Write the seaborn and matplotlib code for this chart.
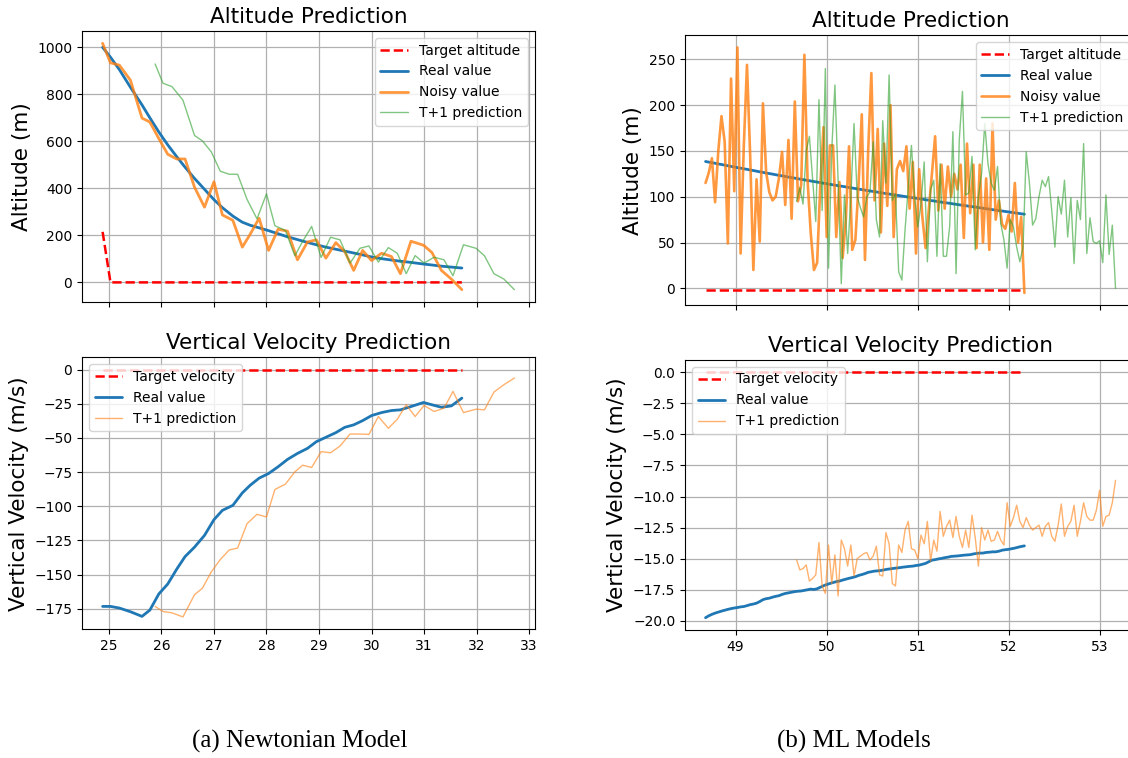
import matplotlib
matplotlib.use("Agg")
import matplotlib.pyplot as plt
import seaborn as sns

# ---------------- (a) Newtonian model ----------------
time_a = [24.88, 25.03, 25.20, 25.41, 25.63, 25.78, 25.95, 26.12, 26.29, 26.45,
          26.63, 26.82, 27.00, 27.16, 27.36, 27.54, 27.69, 27.86, 28.04, 28.22,
          28.40, 28.59, 28.78, 28.95, 29.13, 29.32, 29.49, 29.66, 29.83, 30.00,
          30.19, 30.38, 30.55, 30.75, 30.99, 31.15, 31.33, 31.52, 31.72]
pred_time_a = [25.88, 26.03, 26.20, 26.41, 26.63, 26.78, 26.95, 27.12, 27.29, 27.45,
               27.63, 27.82, 28.00, 28.16, 28.36, 28.54, 28.69, 28.86, 29.04, 29.22,
               29.40, 29.59, 29.78, 29.95, 30.13, 30.32, 30.49, 30.66, 30.83, 31.00,
               31.19, 31.38, 31.55, 31.75, 31.99, 32.15, 32.33, 32.52, 32.72]

target_alt_time_a = [24.88, 25.03, 31.72]
target_alt_a = [215, 0, 0]
real_alt_a = [1000, 958, 905, 830, 755, 700, 640, 585, 535, 490,
              442, 396, 352, 318, 282, 256, 243, 232, 220, 207,
              194, 182, 170, 160, 150, 141, 133, 125, 117, 108,
              101, 95, 90, 85, 78, 74, 69, 65, 61]
noisy_alt_a = [1017, 934, 924, 860, 699, 682, 612, 545, 525, 525,
               405, 320, 428, 287, 264, 150, 205, 273, 136, 226,
               218, 96, 172, 181, 103, 169, 131, 51, 136, 93,
               124, 110, 37, 175, 158, 127, 51, 14, -31]
pred_alt_a = [929, 847, 833, 775, 625, 602, 555, 473, 460, 460,
              353, 270, 377, 241, 221, 113, 175, 238, 106, 192,
              181, 82, 145, 155, 86, 148, 124, 37, 114, 82,
              107, 96, 28, 160, 145, 113, 37, 14, -31]

target_vel_time_a = [24.88, 31.72]
target_vel_a = [0, 0]
real_vel_a = [-173.3, -173.3, -174.5, -177.2, -180.6, -176.0, -164.2, -156.9, -146.1, -136.8,
              -129.9, -121.3, -109.8, -103.0, -99.3, -90.2, -84.6, -79.4, -76.0, -71.1,
              -65.7, -61.3, -57.6, -52.7, -49.5, -46.1, -42.2, -40.4, -37.3, -33.6,
              -31.4, -29.9, -29.4, -27.0, -24.0, -25.7, -27.5, -26.5, -20.8]
pred_vel_a = [-173.3, -177.0, -178.0, -181.0, -164.7, -160.0, -148.0, -139.0, -132.0, -130.6,
              -112.7, -105.9, -107.8, -87.7, -83.8, -74.8, -69.9, -71.6, -60.0, -60.8,
              -55.9, -47.1, -47.1, -47.4, -34.3, -42.9, -36.3, -25.7, -34.3, -26.2,
              -30.6, -28.2, -15.9, -31.4, -28.9, -29.4, -16.4, -11.0, -6.1]

# ---------------- (b) ML models ----------------
time_b = [48.670, 48.705, 48.740, 48.775, 48.810, 48.845, 48.880, 48.915, 48.950, 48.985,
          49.020, 49.055, 49.090, 49.125, 49.160, 49.195, 49.230, 49.265, 49.300, 49.335,
          49.370, 49.405, 49.440, 49.475, 49.510, 49.545, 49.580, 49.615, 49.650, 49.685,
          49.720, 49.755, 49.790, 49.825, 49.860, 49.895, 49.930, 49.965, 50.000, 50.035,
          50.070, 50.105, 50.140, 50.175, 50.210, 50.245, 50.280, 50.315, 50.350, 50.385,
          50.420, 50.455, 50.490, 50.525, 50.560, 50.595, 50.630, 50.665, 50.700, 50.735,
          50.770, 50.805, 50.840, 50.875, 50.910, 50.945, 50.980, 51.015, 51.050, 51.085,
          51.120, 51.155, 51.190, 51.225, 51.260, 51.295, 51.330, 51.365, 51.400, 51.435,
          51.470, 51.505, 51.540, 51.575, 51.610, 51.645, 51.680, 51.715, 51.750, 51.785,
          51.820, 51.855, 51.890, 51.925, 51.960, 51.995, 52.030, 52.065, 52.100, 52.135,
          52.170]
pred_time_b = [49.670, 49.705, 49.740, 49.775, 49.810, 49.845, 49.880, 49.915, 49.950, 49.985,
               50.020, 50.055, 50.090, 50.125, 50.160, 50.195, 50.230, 50.265, 50.300, 50.335,
               50.370, 50.405, 50.440, 50.475, 50.510, 50.545, 50.580, 50.615, 50.650, 50.685,
               50.720, 50.755, 50.790, 50.825, 50.860, 50.895, 50.930, 50.965, 51.000, 51.035,
               51.070, 51.105, 51.140, 51.175, 51.210, 51.245, 51.280, 51.315, 51.350, 51.385,
               51.420, 51.455, 51.490, 51.525, 51.560, 51.595, 51.630, 51.665, 51.700, 51.735,
               51.770, 51.805, 51.840, 51.875, 51.910, 51.945, 51.980, 52.015, 52.050, 52.085,
               52.120, 52.155, 52.190, 52.225, 52.260, 52.295, 52.330, 52.365, 52.400, 52.435,
               52.470, 52.505, 52.540, 52.575, 52.610, 52.645, 52.680, 52.715, 52.750, 52.785,
               52.820, 52.855, 52.890, 52.925, 52.960, 52.995, 53.030, 53.065, 53.100, 53.135,
               53.170]

target_time_b = [48.67, 52.17]
target_alt_b = [-2, -2]
target_vel_b = [0, 0]
real_alt_b = [138.5, 137.8, 137.2, 136.5, 135.8, 135.2, 134.5, 133.8, 133.1, 132.5,
              131.8, 131.2, 130.5, 129.9, 129.2, 128.6, 127.9, 127.2, 126.6, 125.9,
              125.3, 124.7, 124.0, 123.4, 122.8, 122.1, 121.5, 120.9, 120.3, 119.6,
              119.0, 118.4, 117.8, 117.2, 116.6, 116.0, 115.4, 114.8, 114.2, 113.6,
              113.0, 112.4, 111.8, 111.3, 110.7, 110.1, 109.5, 108.9, 108.4, 107.8,
              107.2, 106.6, 106.1, 105.5, 105.0, 104.4, 103.8, 103.3, 102.7, 102.2,
              101.6, 101.1, 100.5, 100.0, 99.4, 98.9, 98.4, 97.8, 97.3, 96.7,
              96.2, 95.7, 95.2, 94.6, 94.1, 93.6, 93.1, 92.6, 92.0, 91.5,
              91.0, 90.5, 90.0, 89.5, 89.0, 88.5, 88.0, 87.4, 86.9, 86.4,
              85.9, 85.4, 84.9, 84.4, 83.9, 83.4, 82.9, 82.4, 81.9, 81.4,
              80.9]
noisy_alt_b = [115, 126, 142, 94, 150, 188, 160, 49, 229, 106,
               263, 38, 155, 244, 145, 20, 119, 51, 202, 127,
               105, 96, 100, 120, 149, 91, 162, 76, 204, 95,
               113, 255, 118, 60, 20, 28, 113, 176, 56, 156,
               156, 56, 116, 33, 75, 155, 42, 53, 114, 190,
               31, 150, 235, 96, 174, 61, 158, 90, 200, 56,
               130, 139, 128, 155, 87, 138, 38, 130, 78, 44,
               85, 125, 166, 85, 135, 87, 133, 100, 125, 108,
               135, 55, 158, 82, 135, 44, 135, 50, 120, 42,
               180, 75, 96, 70, 65, 80, 62, 115, 50, 78,
               -5]
pred_alt_b = [95, 110, 92, 150, 166, 120, 73, 206, 85, 240,
              22, 150, 222, 118, 5, 102, 38, 100, 180, 100,
              88, 78, 100, 105, 160, 75, 56, 183, 115, 233,
              96, 103, 18, 9, 64, 110, 156, 100, 67, 92,
              138, 29, 108, 118, 35, 136, 35, 35, 68, 171,
              16, 162, 215, 102, 104, 144, 42, 100, 125, 180,
              136, 115, 107, 133, 71, 53, 22, 75, 67, 45,
              29, 45, 149, 115, 69, 76, 100, 118, 111, 122,
              85, 45, 100, 81, 118, 56, 99, 27, 96, 75,
              158, 38, 77, 51, 49, 52, 28, 102, 37, 69,
              0]
real_vel_b = [-19.75, -19.60, -19.48, -19.38, -19.30, -19.22, -19.15, -19.08, -19.02, -18.97,
              -18.93, -18.88, -18.85, -18.78, -18.70, -18.65, -18.58, -18.45, -18.30, -18.22,
              -18.18, -18.10, -18.03, -17.98, -17.88, -17.80, -17.75, -17.70, -17.65, -17.62,
              -17.60, -17.55, -17.50, -17.45, -17.48, -17.42, -17.30, -17.18, -17.08, -17.00,
              -16.92, -16.85, -16.80, -16.72, -16.65, -16.58, -16.52, -16.45, -16.35, -16.28,
              -16.20, -16.10, -16.05, -16.00, -15.98, -15.95, -15.90, -15.85, -15.82, -15.78,
              -15.75, -15.72, -15.68, -15.65, -15.62, -15.60, -15.55, -15.52, -15.45, -15.38,
              -15.25, -15.12, -15.08, -15.02, -14.98, -14.92, -14.88, -14.82, -14.80, -14.78,
              -14.75, -14.72, -14.70, -14.68, -14.62, -14.58, -14.55, -14.55, -14.50, -14.48,
              -14.45, -14.45, -14.40, -14.32, -14.28, -14.25, -14.20, -14.15, -14.08, -14.02,
              -13.97]
pred_vel_b = [-15.1, -15.9, -15.8, -15.5, -16.8, -16.6, -16.3, -13.7, -17.2, -17.8,
              -13.9, -17.0, -14.7, -18.0, -13.5, -14.2, -15.6, -13.9, -16.4, -15.0,
              -14.8, -14.6, -14.5, -15.1, -14.8, -14.0, -16.3, -16.4, -12.9, -13.8,
              -17.0, -17.2, -13.9, -14.5, -12.7, -12.0, -14.2, -14.3, -15.0, -13.1,
              -13.8, -12.0, -15.2, -13.5, -14.4, -11.2, -13.2, -12.4, -11.9, -13.3,
              -11.6, -13.2, -14.1, -12.7, -14.1, -11.5, -13.3, -15.6, -12.5, -13.5,
              -12.7, -13.6, -13.5, -12.8, -13.5, -13.9, -10.5, -12.4, -11.7, -10.7,
              -12.0, -12.5, -11.7, -12.3, -12.7, -12.5, -12.3, -13.2, -12.4, -12.1,
              -13.2, -13.6, -12.3, -10.6, -13.2, -12.4, -12.0, -10.7, -13.2, -12.0,
              -10.5, -11.6, -11.9, -11.9, -11.1, -9.5, -12.4, -11.6, -11.5, -10.5,
              -8.7]

titles = ["Altitude Prediction", "Vertical Velocity Prediction"]
ylabels = ["Altitude (m)", "Vertical Velocity (m/s)"]
captions = ["(a) Newtonian Model", "(b) ML Models"]

# ---------------- style ----------------
sns.set_theme(style="ticks")
plt.rcParams.update({
    "font.family": ["DejaVu Sans"],
    "text.color": "black", "axes.labelcolor": "black",
    "xtick.color": "black", "ytick.color": "black",
    "axes.edgecolor": "black", "axes.linewidth": 0.8,
    "xtick.labelsize": 10, "ytick.labelsize": 10,
    "xtick.major.size": 3.5, "ytick.major.size": 3.5,
    "xtick.major.width": 0.8, "ytick.major.width": 0.8,
    "legend.fontsize": 10, "legend.framealpha": 0.8,
    "legend.fancybox": True, "legend.edgecolor": "0.8",
})

RED, BLUE, ORANGE, GREEN = "red", "#1f77b4", "#ff7f0e", "#2ca02c"

fig = plt.figure(figsize=(11.28, 7.58), dpi=100)
ax_lt = fig.add_axes([0.0727, 0.6016, 0.4016, 0.3575])
ax_lb = fig.add_axes([0.0727, 0.1698, 0.4016, 0.3588])
ax_rt = fig.add_axes([0.6073, 0.5974, 0.3998, 0.3562])
ax_rb = fig.add_axes([0.6073, 0.1689, 0.3998, 0.3562])


def line(ax, x, y, **kw):
    sns.lineplot(x=x, y=y, ax=ax, estimator=None, sort=False, **kw)


# Left top
line(ax_lt, target_alt_time_a, target_alt_a, color=RED, linestyle="--", linewidth=1.8, label="Target altitude")
line(ax_lt, time_a, real_alt_a, color=BLUE, linewidth=2, label="Real value")
line(ax_lt, time_a, noisy_alt_a, color=ORANGE, linewidth=2, alpha=0.8, label="Noisy value")
line(ax_lt, pred_time_a, pred_alt_a, color=GREEN, linewidth=1, alpha=0.6, label="T+1 prediction")
ax_lt.legend(loc="upper right")

# Left bottom
line(ax_lb, target_vel_time_a, target_vel_a, color=RED, linestyle="--", linewidth=1.8, label="Target velocity")
line(ax_lb, time_a, real_vel_a, color=BLUE, linewidth=2, label="Real value")
line(ax_lb, pred_time_a, pred_vel_a, color=ORANGE, linewidth=1, alpha=0.6, label="T+1 prediction")
ax_lb.legend(loc="upper left")

# Right top
line(ax_rt, target_time_b, target_alt_b, color=RED, linestyle="--", linewidth=1.8, label="Target altitude")
line(ax_rt, time_b, real_alt_b, color=BLUE, linewidth=2, label="Real value")
line(ax_rt, time_b, noisy_alt_b, color=ORANGE, linewidth=1.9, alpha=0.8, label="Noisy value")
line(ax_rt, pred_time_b, pred_alt_b, color=GREEN, linewidth=1, alpha=0.6, label="T+1 prediction")
ax_rt.legend(loc="upper right")

# Right bottom
line(ax_rb, target_time_b, target_vel_b, color=RED, linestyle="--", linewidth=1.8, label="Target velocity")
line(ax_rb, time_b, real_vel_b, color=BLUE, linewidth=2, label="Real value")
line(ax_rb, pred_time_b, pred_vel_b, color=ORANGE, linewidth=1, alpha=0.6, label="T+1 prediction")
ax_rb.legend(loc="upper left")

for ax, title, ylab in [(ax_lt, titles[0], ylabels[0]), (ax_lb, titles[1], ylabels[1]),
                        (ax_rt, titles[0], ylabels[0]), (ax_rb, titles[1], ylabels[1])]:
    ax.set_title(title, fontsize=15.5, pad=6)
    ax.set_ylabel(ylab, fontsize=15.5)
    ax.set_xlabel("")
    ax.grid(True, color="#b0b0b0", linewidth=0.9)
    for s in ax.spines.values():
        s.set_visible(True)
        s.set_color("black")

ax_lt.tick_params(labelbottom=False)
ax_rt.tick_params(labelbottom=False)
ax_lt.set_xlim(ax_lb.get_xlim())
ax_rt.set_xlim(ax_rb.get_xlim())

fig.text(0.266, 0.0224, captions[0], ha="center", va="center", family="Liberation Serif", fontsize=18)
fig.text(0.757, 0.0224, captions[1], ha="center", va="center", family="Liberation Serif", fontsize=18)

fig.savefig("out.png", dpi=100)
